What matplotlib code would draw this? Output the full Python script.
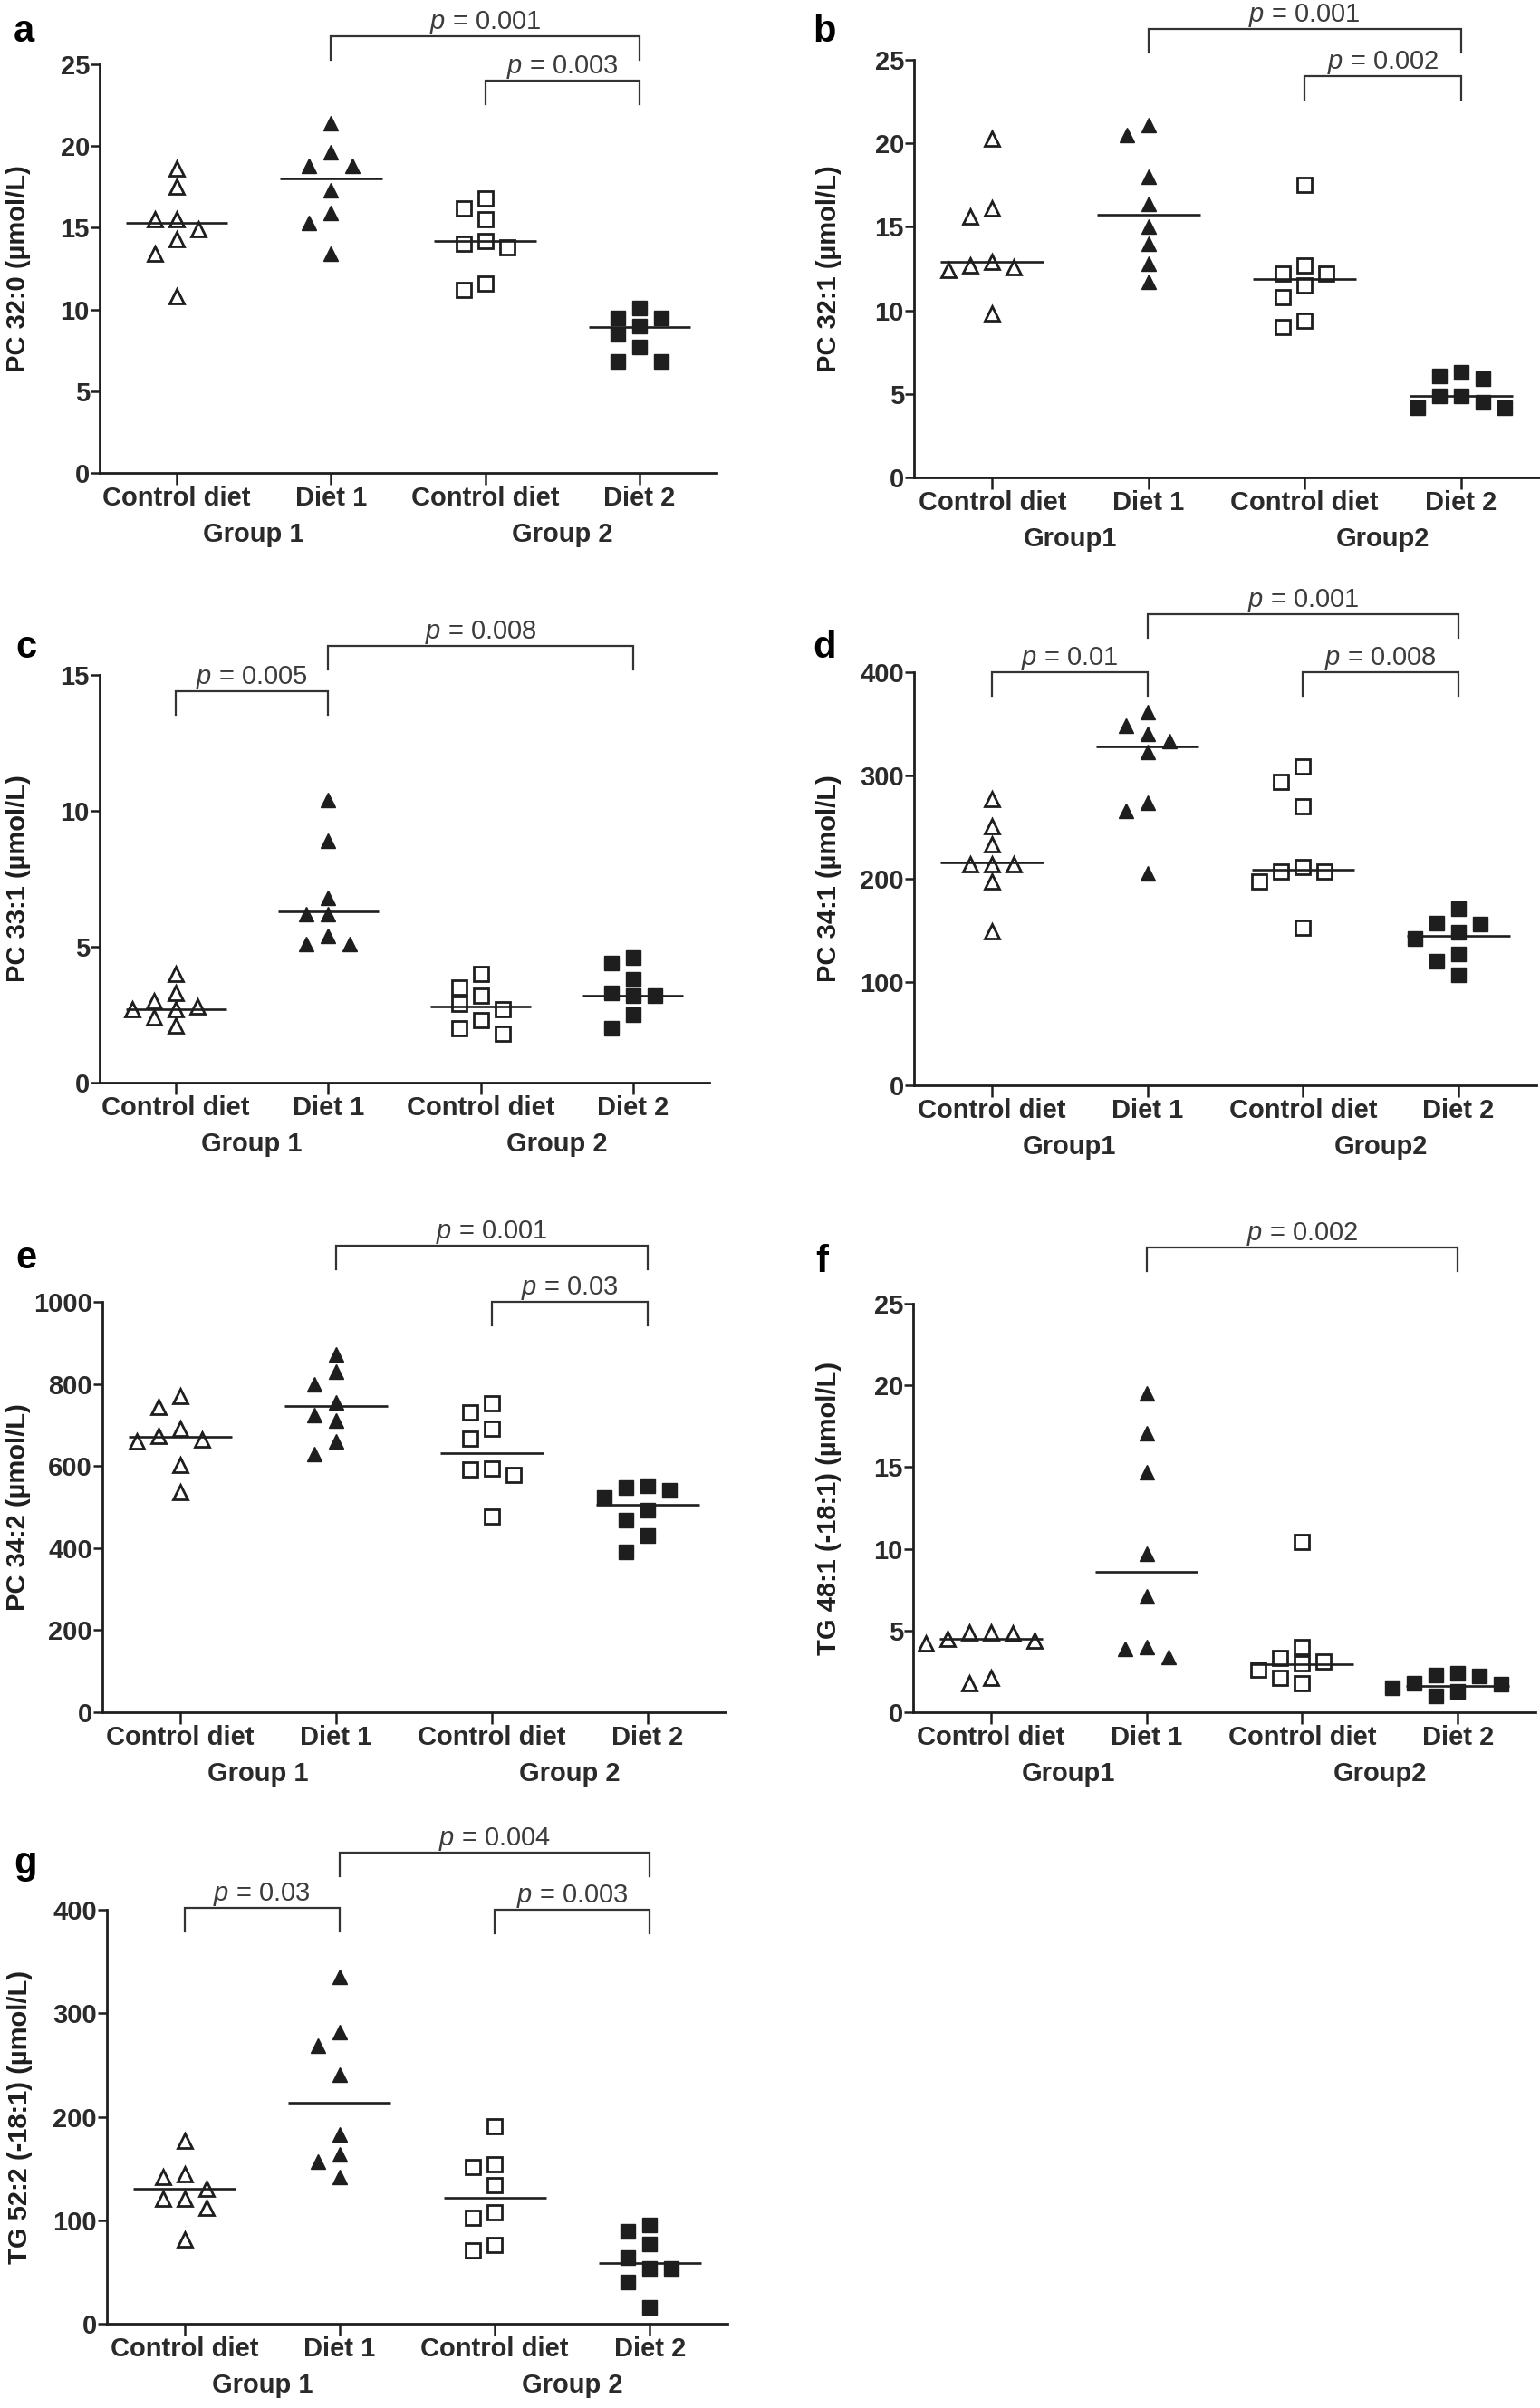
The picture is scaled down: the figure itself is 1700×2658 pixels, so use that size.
import numpy as np
import matplotlib
matplotlib.use('Agg')
import matplotlib.pyplot as plt
from matplotlib import font_manager as fm


def pick(fams):
    for f in fams:
        try:
            fm.findfont(fm.FontProperties(family=f), fallback_to_default=False)
            return f
        except Exception:
            pass
    return 'DejaVu Sans'


FONT = pick(['Liberation Sans', 'Arial', 'DejaVu Sans'])
plt.rcParams['font.family'] = [FONT, 'DejaVu Sans']
plt.rcParams['mathtext.fontset'] = 'custom'
plt.rcParams['mathtext.it'] = FONT + ':italic'
plt.rcParams['mathtext.rm'] = FONT

# ---------------- data ----------------
categories = ['Control diet', 'Diet 1', 'Control diet', 'Diet 2']
groups_spaced = ['Group 1', 'Group 2']
groups_tight = ['Group1', 'Group2']

a_ctrl1 = [18.6, 17.5, 15.5, 15.5, 14.9, 14.3, 13.4, 10.8]
a_diet1 = [21.4, 19.6, 18.8, 18.8, 17.3, 15.9, 15.3, 13.4]
a_ctrl2 = [16.8, 16.2, 15.5, 14.2, 14.0, 13.8, 11.6, 11.2]
a_diet2 = [10.1, 9.5, 9.5, 9.0, 8.5, 7.7, 6.8, 6.8]
a_lines = [15.3, 18.0, 14.2, 8.9]

b_ctrl1 = [20.3, 16.1, 15.6, 12.9, 12.7, 12.6, 12.4, 9.8]
b_diet1 = [21.1, 20.5, 18.0, 16.4, 15.0, 14.0, 12.8, 11.7]
b_ctrl2 = [17.5, 12.7, 12.2, 12.2, 11.5, 10.8, 9.4, 9.0]
b_diet2 = [6.3, 6.1, 5.9, 4.9, 4.9, 4.5, 4.2, 4.2]
b_lines = [12.9, 15.7, 11.9, 4.9]

c_ctrl1 = [4.0, 3.3, 3.0, 2.8, 2.7, 2.7, 2.4, 2.1]
c_diet1 = [10.4, 8.9, 6.8, 6.2, 6.2, 5.4, 5.1, 5.1]
c_ctrl2 = [4.0, 3.5, 3.2, 2.9, 2.7, 2.3, 2.0, 1.8]
c_diet2 = [4.6, 4.4, 3.8, 3.3, 3.2, 3.2, 2.5, 2.0]
c_lines = [2.7, 6.3, 2.8, 3.2]

d_ctrl1 = [277, 251, 233, 214, 214, 214, 197, 149]
d_diet1 = [361, 348, 340, 333, 323, 274, 266, 205]
d_ctrl2 = [309, 294, 270, 211, 207, 207, 197, 153]
d_diet2 = [171, 157, 156, 148, 142, 127, 120, 107]
d_lines = [216, 328, 209, 145]

e_ctrl1 = [771, 743, 692, 673, 665, 659, 602, 536]
e_diet1 = [873, 831, 800, 755, 725, 711, 661, 630]
e_ctrl2 = [753, 730, 692, 667, 593, 591, 579, 477]
e_diet2 = [551, 547, 541, 524, 492, 467, 430, 391]
e_lines = [671, 747, 632, 506]

f_ctrl1 = [4.9, 4.9, 4.8, 4.5, 4.4, 4.2, 2.1, 1.8]
f_diet1 = [19.5, 17.1, 14.7, 9.7, 7.1, 4.0, 3.9, 3.4]
f_ctrl2 = [10.4, 4.0, 3.3, 3.1, 3.0, 2.6, 2.1, 1.8]
f_diet2 = [2.4, 2.3, 2.2, 1.8, 1.7, 1.5, 1.3, 1.0]
f_lines = [4.5, 8.6, 2.95, 1.6]

g_ctrl1 = [177, 144, 142, 130, 121, 121, 112, 81]
g_diet1 = [335, 282, 269, 241, 183, 164, 157, 142]
g_ctrl2 = [191, 154, 151, 134, 108, 102, 76, 71]
g_diet2 = [95, 89, 77, 64, 53, 53, 40, 16]
g_lines = [130, 214, 122, 59]

a_comps = [(1, 3, '0.001'), (2, 3, '0.003')]
b_comps = [(1, 3, '0.001'), (2, 3, '0.002')]
c_comps = [(0, 1, '0.005'), (1, 3, '0.008')]
d_comps = [(0, 1, '0.01'), (1, 3, '0.001'), (2, 3, '0.008')]
e_comps = [(1, 3, '0.001'), (2, 3, '0.03')]
f_comps = [(1, 3, '0.002')]
g_comps = [(0, 1, '0.03'), (1, 3, '0.004'), (2, 3, '0.003')]

ylabels = ['PC 32:0 (\u00b5mol/L)', 'PC 32:1 (\u00b5mol/L)', 'PC 33:1 (\u00b5mol/L)',
           'PC 34:1 (\u00b5mol/L)', 'PC 34:2 (\u00b5mol/L)',
           'TG 48:1 (-18:1) (\u00b5mol/L)', 'TG 52:2 (-18:1) (\u00b5mol/L)']

# ---------------- layout / style ----------------
W, H = 1700, 2658
fig = plt.figure(figsize=(W / 100, H / 100), dpi=100)
INK = '#1e1e1e'
TXT = '#2a2a2a'
PCOL = '#3c3c3c'

styles = [
    dict(marker='^', ms=11, mfc='white', mec=INK, mew=2.0),
    dict(marker='^', ms=11, mfc=INK, mec=INK, mew=1.0),
    dict(marker='s', ms=12, mfc='white', mec=INK, mew=2.0),
    dict(marker='s', ms=12, mfc=INK, mec=INK, mew=1.0),
]


def swarm(vals, ppu, xpu, step_px=24, tol_px=18):
    vals = np.asarray(vals, float)
    order = np.argsort(-vals)
    placed = []
    offs = np.zeros(len(vals))
    for idx in order:
        y = vals[idx] * ppu
        cands = [0, -1, 1, -2, 2, -3, 3]
        xsel = 0
        for k in cands:
            x = k * step_px
            if all(not (abs(x - px) < step_px * 0.9 and abs(y - py) < tol_px) for px, py in placed):
                xsel = x
                break
        placed.append((xsel, y))
        offs[idx] = xsel / xpu
    return offs


def panel(rect, series, lines, ymax, ystep, ylabel, comps, levels, letter,
          letter_xy, ylab_x, groups):
    l, t, r, b = rect
    ax = fig.add_axes([l / W, 1 - b / H, (r - l) / W, (b - t) / H])
    axh = b - t
    axw = r - l
    ax.set_xlim(-0.5, 3.5)
    ax.set_ylim(0, ymax)
    ppu = axh / ymax
    xpu = axw / 4.0
    for i, vals in enumerate(series):
        offs = swarm(vals, ppu, xpu)
        ax.plot(i + offs, vals, linestyle='none', clip_on=False, zorder=3, **styles[i])
        ax.plot([i - 0.33, i + 0.33], [lines[i], lines[i]], color=INK, lw=1.9,
                zorder=4, solid_capstyle='butt')
    for s in ['top', 'right']:
        ax.spines[s].set_visible(False)
    for s in ['left', 'bottom']:
        ax.spines[s].set_linewidth(2.0)
        ax.spines[s].set_color(INK)
    ax.set_yticks(np.arange(0, ymax + ystep * 0.01, ystep))
    ax.set_xticks(range(4))
    ax.set_xticklabels(categories)
    ax.tick_params(axis='y', length=7, width=1.8, pad=1, labelsize=21, colors=INK,
                   labelcolor=TXT)
    ax.tick_params(axis='x', length=9, width=1.8, pad=1, labelsize=21, colors=INK,
                   labelcolor=TXT)
    for lab in ax.get_xticklabels() + ax.get_yticklabels():
        lab.set_fontweight('bold')
    # group labels
    for gi, g in enumerate(groups):
        ax.annotate(g, xy=(0.5 + 2 * gi, 0), xycoords=ax.get_xaxis_transform(),
                    xytext=(0, -49), textcoords='offset points', ha='center',
                    va='center', fontsize=21, color=TXT, fontweight='bold')
    # brackets
    tr = ax.get_xaxis_transform()
    for (i, j, p), lev in zip(comps, levels):
        yb = 1 + lev / axh
        yd = yb - 26 / axh
        ax.plot([i, i, j, j], [yd, yb, yb, yd], transform=tr, color='#333333',
                lw=1.6, clip_on=False, solid_joinstyle='miter')
        ax.annotate(r'$\it{p}$ = ' + p, xy=((i + j) / 2, yb), xycoords=tr,
                    xytext=(0, 6), textcoords='offset points', ha='center',
                    va='baseline', fontsize=21, color=PCOL)
    fig.text(letter_xy[0] / W, 1 - letter_xy[1] / H, letter, fontsize=30,
             weight='bold', ha='left', va='baseline', color='black')
    fig.text(ylab_x / W, 1 - (t + b) / 2 / H, ylabel, rotation=90, ha='center',
             va='center', fontsize=21, weight='bold', color=INK)
    return ax


panel((110, 71, 791, 522), [a_ctrl1, a_diet1, a_ctrl2, a_diet2], a_lines, 25, 5,
      ylabels[0], a_comps, [31, -18], 'a', (15, 46), 20, groups_spaced)
panel((1009, 66, 1699, 527), [b_ctrl1, b_diet1, b_ctrl2, b_diet2], b_lines, 25, 5,
      ylabels[1], b_comps, [34, -18], 'b', (897, 46), 915, groups_tight)
panel((110, 745, 783, 1195), [c_ctrl1, c_diet1, c_ctrl2, c_diet2], c_lines, 15, 5,
      ylabels[2], c_comps, [-18, 32], 'c', (17, 726), 20, groups_spaced)
panel((1009, 742, 1696, 1198), [d_ctrl1, d_diet1, d_ctrl2, d_diet2], d_lines, 400, 100,
      ylabels[3], d_comps, [0, 64, 0], 'd', (897, 726), 915, groups_tight)
panel((113, 1437, 801, 1890), [e_ctrl1, e_diet1, e_ctrl2, e_diet2], e_lines, 1000, 200,
      ylabels[4], e_comps, [62, 0], 'e', (17, 1400), 20, groups_spaced)
panel((1008, 1439, 1695, 1890), [f_ctrl1, f_diet1, f_ctrl2, f_diet2], f_lines, 25, 5,
      ylabels[5], f_comps, [62], 'f', (900, 1404), 915, groups_tight)
panel((118, 2108, 803, 2565), [g_ctrl1, g_diet1, g_ctrl2, g_diet2], g_lines, 400, 100,
      ylabels[6], g_comps, [2, 63, 0], 'g', (15, 2068), 22, groups_spaced)

fig.savefig('out.png', dpi=100, facecolor='white')
